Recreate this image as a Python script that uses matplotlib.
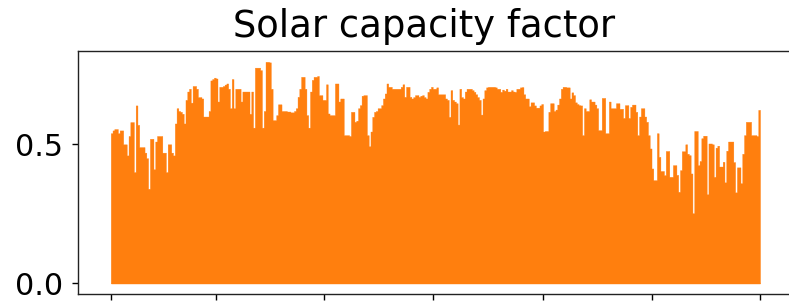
import numpy as np
import matplotlib
matplotlib.use("Agg")
import matplotlib.pyplot as plt

# Daily peak solar capacity factor
cf_jan_feb = [0.54, 0.55, 0.555, 0.555, 0.54, 0.55, 0.55, 0.50, 0.50, 0.46,
              0.53, 0.58, 0.58, 0.40, 0.64, 0.57, 0.49, 0.49, 0.49, 0.47,
              0.45, 0.34, 0.52, 0.52, 0.41, 0.51, 0.53, 0.53, 0.53, 0.47,
              0.47, 0.40, 0.50, 0.50, 0.47, 0.46, 0.575, 0.63, 0.62, 0.617,
              0.61, 0.575, 0.66, 0.69, 0.70, 0.65, 0.71, 0.71, 0.70, 0.67,
              0.67, 0.665, 0.60, 0.60, 0.60, 0.62, 0.73, 0.735, 0.74]
cf_mar_apr = [0.737, 0.654, 0.707, 0.707, 0.71, 0.715, 0.719, 0.70, 0.63, 0.735,
              0.63, 0.70, 0.70, 0.70, 0.654, 0.69, 0.69, 0.69, 0.69, 0.61,
              0.69, 0.56, 0.776, 0.776, 0.776, 0.767, 0.56, 0.62, 0.797, 0.797,
              0.795, 0.70, 0.587, 0.587, 0.605, 0.644, 0.644, 0.62, 0.62, 0.62,
              0.618, 0.618, 0.615, 0.615, 0.62, 0.63, 0.671, 0.70, 0.743, 0.743,
              0.70, 0.605, 0.56, 0.69, 0.732, 0.743, 0.743, 0.746, 0.677, 0.677,
              0.66, 0.66]
cf_may_jun = [0.716, 0.611, 0.605, 0.605, 0.605, 0.719, 0.719, 0.654, 0.665, 0.665,
              0.533, 0.533, 0.533, 0.53, 0.617, 0.617, 0.581, 0.585, 0.63, 0.641,
              0.675, 0.677, 0.677, 0.533, 0.493, 0.546, 0.599, 0.617, 0.62, 0.63,
              0.63, 0.641, 0.665, 0.683, 0.719, 0.707, 0.707, 0.70, 0.70, 0.70,
              0.70, 0.70, 0.707, 0.716, 0.671, 0.707, 0.707, 0.671, 0.665, 0.67,
              0.677, 0.677, 0.671, 0.675, 0.677, 0.67, 0.665, 0.689, 0.70, 0.707,
              0.70, 0.70]
cf_jul_aug = [0.705, 0.68, 0.68, 0.68, 0.68, 0.665, 0.66, 0.599, 0.695, 0.66,
              0.654, 0.648, 0.571, 0.70, 0.67, 0.665, 0.69, 0.70, 0.70, 0.70,
              0.695, 0.689, 0.68, 0.67, 0.66, 0.607, 0.665, 0.695, 0.705, 0.707,
              0.707, 0.707, 0.707, 0.705, 0.70, 0.70, 0.689, 0.697, 0.693, 0.70,
              0.69, 0.69, 0.695, 0.69, 0.689, 0.70, 0.70, 0.705, 0.706, 0.68,
              0.665, 0.665, 0.637, 0.651, 0.651, 0.64, 0.632, 0.632, 0.64, 0.645,
              0.546]
cf_sep_oct = [0.548, 0.548, 0.617, 0.648, 0.648, 0.62, 0.625, 0.643, 0.665, 0.70,
              0.707, 0.707, 0.705, 0.705, 0.665, 0.687, 0.677, 0.651, 0.645, 0.641,
              0.64, 0.533, 0.63, 0.62, 0.62, 0.662, 0.654, 0.654, 0.643, 0.63,
              0.551, 0.551, 0.667, 0.667, 0.54, 0.54, 0.654, 0.63, 0.63, 0.63,
              0.648, 0.648, 0.628, 0.628, 0.595, 0.641, 0.641, 0.595, 0.635, 0.643,
              0.643, 0.617, 0.533, 0.60, 0.63, 0.63, 0.60, 0.581, 0.533, 0.485,
              0.413, 0.371]
cf_nov_dec = [0.371, 0.54, 0.455, 0.404, 0.404, 0.389, 0.476, 0.476, 0.383, 0.383,
              0.425, 0.425, 0.39, 0.329, 0.407, 0.475, 0.475, 0.50, 0.466, 0.461,
              0.395, 0.252, 0.548, 0.548, 0.425, 0.44, 0.522, 0.531, 0.531, 0.32,
              0.503, 0.503, 0.50, 0.383, 0.488, 0.495, 0.42, 0.42, 0.437, 0.363,
              0.477, 0.51, 0.51, 0.51, 0.436, 0.327, 0.417, 0.417, 0.36, 0.466,
              0.533, 0.581, 0.581, 0.581, 0.533, 0.533, 0.533, 0.53, 0.624]

solar_cf = cf_jan_feb + cf_mar_apr + cf_may_jun + cf_jul_aug + cf_sep_oct + cf_nov_dec
# day-of-year positions of the x ticks (1 Jan, 1 Mar, 1 May, 1 Jul, 1 Sep, 1 Nov, 1 Jan)
tick_days = [0, 59, 120, 181, 243, 304, 365]
y_ticks = [0.0, 0.5]
y_tick_labels = ["0.0", "0.5"]
title = "Solar capacity factor"

W, H = 789, 303
fig = plt.figure(figsize=(W / 100, H / 100), dpi=100)
left, right, top, bottom = 78.3, 792.5, 50.7, 294.3
ax = fig.add_axes([left / W, 1 - bottom / H, (right - left) / W, (bottom - top) / H])

days = np.arange(len(solar_cf) + 1)
vals = np.array(solar_cf + [solar_cf[-1]])
orange = "#ff7f0e"
ax.fill_between(days, 0, vals, step="post", color=orange, edgecolor=orange, linewidth=0.25)
ax.plot([days[0], days[-1]], [0, 0], color=orange, lw=1.0, solid_capstyle="butt")

ax.set_xlim(-0.05 * 365, 365 * 1.05)
ax.set_ylim(-0.04, 0.837)
ax.set_xticks(tick_days)
ax.set_xticklabels([""] * len(tick_days))
ax.set_yticks(y_ticks)
ax.set_yticklabels(y_tick_labels)
ax.tick_params(axis="both", labelsize=21.7, length=4.2, width=1.0, pad=6.5)
for s in ax.spines.values():
    s.set_linewidth(1.0)
    s.set_color("#222222")

fig.text(424.5 / W, 1 - 37.3 / H, title, ha="center", va="baseline", fontsize=26.6)

fig.savefig("out.png", dpi=100)
